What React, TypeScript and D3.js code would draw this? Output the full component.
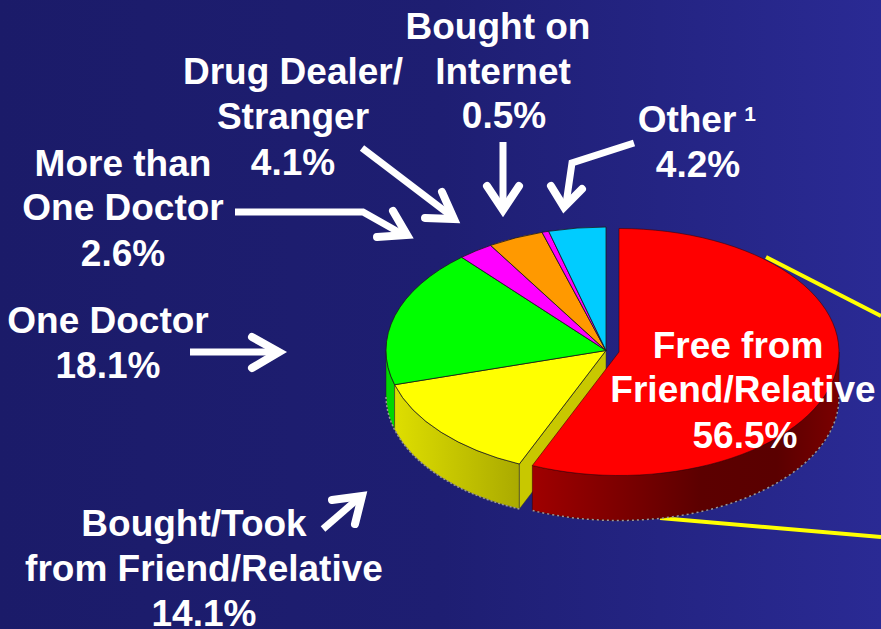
import React from "react";
import * as d3 from "d3";

const categories = ["Free from Friend/Relative", "Bought/Took from Friend/Relative", "One Doctor", "More than One Doctor", "Drug Dealer/Stranger", "Bought on Internet", "Other"];
const values = [56.5, 14.1, 18.1, 2.6, 4.1, 0.5, 4.2];
const colors = ["#ff0000", "#ffff00", "#00ff00", "#ff00ff", "#ff9900", "#ff00ff", "#00ccff"];

const W = 881, H = 629;
const rx = 220, ry = 123.5, depth = 45;
const mainC = { x: 606, y: 350.5 };
const redC = { x: 619, y: 352 };

const pie = d3.pie<number>().sort(null).value((d) => d);
const slices = pie(values);
const arc = d3.arc<d3.PieArcDatum<number>>().innerRadius(0).outerRadius(rx);

const pt = (c: { x: number; y: number }, a: number, dy = 0): [number, number] => [
  c.x + rx * Math.sin(a),
  c.y - ry * Math.cos(a) + dy,
];

// Visible outer wall of a slice: only the front half of the ellipse (90deg to 270deg)
function rim(c: { x: number; y: number }, a0: number, a1: number): string | null {
  const s = Math.max(a0, Math.PI / 2), e = Math.min(a1, (3 * Math.PI) / 2);
  if (e <= s) return null;
  const p0 = pt(c, s), p1 = pt(c, e), p2 = pt(c, e, depth), p3 = pt(c, s, depth);
  return `M${p0}A${rx},${ry} 0 0 1 ${p1}L${p2}A${rx},${ry} 0 0 0 ${p3}Z`;
}
function rimBottom(c: { x: number; y: number }, a0: number, a1: number): string | null {
  const s = Math.max(a0, Math.PI / 2), e = Math.min(a1, (3 * Math.PI) / 2);
  if (e <= s) return null;
  return `M${pt(c, s, depth)}A${rx},${ry} 0 0 1 ${pt(c, e, depth)}`;
}

const textStyle: React.CSSProperties = {
  fontFamily: "'Liberation Sans', Arial, sans-serif",
  fontWeight: 700,
  fontSize: 37,
  fill: "#ffffff",
  textAnchor: "middle",
};

const labels: [string, number, number][] = [
  ["Bought on", 498, 39], ["Internet", 503, 84], ["0.5%", 504, 128],
  ["Drug Dealer/", 293, 84], ["Stranger", 293, 129], ["4.1%", 293, 175],
  ["More than", 123, 176], ["One Doctor", 123, 220], ["2.6%", 123, 266],
  ["One Doctor", 108, 333], ["18.1%", 108, 378],
  ["Bought/Took", 194, 536], ["from Friend/Relative", 204, 581], ["14.1%", 204, 626],
  ["Other", 687, 132], ["4.2%", 698, 177],
  ["Free from", 738, 358], ["Friend/Relative", 743, 402], ["56.5%", 745, 448],
];

const shafts = [
  "M190,352H276",
  "M235,212H363L402,234",
  "M362,148L450,215",
  "M503,142V208",
  "M634,143L572,163L566,204",
  "M323,529L360,497",
];
const heads = [
  "M252,337L279,352L252,368",
  "M393,211L407,235L377,237",
  "M442,192L454,219L425,218",
  "M487,186L503,210L519,186",
  "M551,186L564,207L582,189",
  "M332,500L362,496L355,524",
];

export default function App() {
  const [red, yellow, green] = slices;
  const tip = pt(mainC, yellow.startAngle);
  return (
    <svg width={W} height={H} viewBox={`0 0 ${W} ${H}`} style={{ position: "fixed", left: 0, top: 0, display: "block" }}>
      <defs>
        <linearGradient id="bg" x1="0" x2="1" y1="0" y2="0">
          <stop offset="0" stopColor="#1b1b69" />
          <stop offset="0.5" stopColor="#1e1e72" />
          <stop offset="1" stopColor="#2a2a94" />
        </linearGradient>
        <linearGradient id="redSide" gradientUnits="userSpaceOnUse" x1="532" x2="838" y1="0" y2="0">
          <stop offset="0" stopColor="#a00000" />
          <stop offset="0.55" stopColor="#5c0000" />
          <stop offset="0.8" stopColor="#5a0000" />
          <stop offset="1" stopColor="#7a0000" />
        </linearGradient>
        <linearGradient id="yellowSide" gradientUnits="userSpaceOnUse" x1="395" x2="520" y1="0" y2="0">
          <stop offset="0" stopColor="#dede00" />
          <stop offset="1" stopColor="#aaaa00" />
        </linearGradient>
      </defs>
      <rect width={W} height={H} fill="url(#bg)" />

      {/* yellow leader lines */}
      <line x1={766} y1={257} x2={881} y2={316} stroke="#ffff00" strokeWidth={4} />
      <line x1={660} y1={518} x2={881} y2={537} stroke="#ffff00" strokeWidth={4} />

      {/* main pie walls */}
      <path d={rim(mainC, green.startAngle, green.endAngle) ?? ""} fill="#00d800" stroke="#222" strokeWidth={0.5} />
      <path d={rim(mainC, yellow.startAngle, yellow.endAngle) ?? ""} fill="url(#yellowSide)" stroke="#333" strokeWidth={0.5} />
      <path
        d={`M${mainC.x},${mainC.y}L${tip}L${tip[0]},${tip[1] + depth}L${mainC.x},${mainC.y + depth}Z`}
        fill="#c8c800"
        stroke="#333"
        strokeWidth={0.5}
      />
      <path d={rimBottom(mainC, yellow.startAngle, green.endAngle) ?? ""} fill="none" stroke="#999" strokeWidth={1.5} strokeDasharray="2 2" />

      {/* main pie tops */}
      <g transform={`translate(${mainC.x},${mainC.y}) scale(1,${ry / rx})`}>
        {slices.slice(1).map((d, i) => (
          <path
            key={categories[i + 1]}
            d={arc(d) ?? ""}
            fill={colors[i + 1]}
            stroke="#1a1a1a"
            strokeWidth={0.8}
            vectorEffect="non-scaling-stroke"
          />
        ))}
      </g>

      {/* exploded red slice */}
      <path d={rim(redC, red.startAngle, red.endAngle) ?? ""} fill="url(#redSide)" stroke="#300" strokeWidth={0.5} />
      <path d={rimBottom(redC, red.startAngle, red.endAngle) ?? ""} fill="none" stroke="#999" strokeWidth={1.5} strokeDasharray="2 3" />
      <g transform={`translate(${redC.x},${redC.y}) scale(1,${ry / rx})`}>
        <path d={arc(red) ?? ""} fill={colors[0]} stroke="#400" strokeWidth={0.6} vectorEffect="non-scaling-stroke" />
      </g>

      {/* arrows */}
      {shafts.map((d) => (
        <path key={d} d={d} fill="none" stroke="#fff" strokeWidth={7} strokeLinejoin="miter" />
      ))}
      {heads.map((d) => (
        <path key={d} d={d} fill="none" stroke="#fff" strokeWidth={8} strokeLinecap="round" strokeLinejoin="miter" />
      ))}

      {/* labels */}
      {labels.map(([t, x, y]) => (
        <text key={t + x + y} x={x} y={y} style={textStyle}>{t}</text>
      ))}
      <text x={750} y={121} style={{ ...textStyle, fontSize: 21 }}>1</text>
    </svg>
  );
}
